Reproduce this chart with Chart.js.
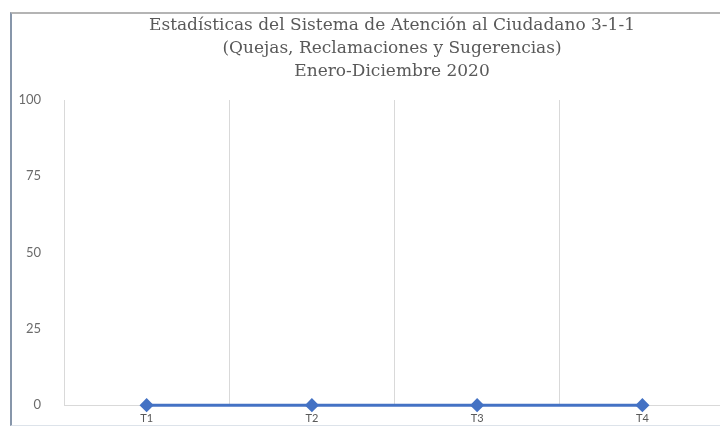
<!DOCTYPE html>
<html>
<head>
<meta charset="utf-8">
<script src="https://cdn.jsdelivr.net/npm/chart.js@4"></script>
<style>
  body { margin: 0; background: #fff; width: 720px; height: 429px; overflow: hidden; position: relative; }
  #frame {
    position: absolute; left: 10px; top: 12px; width: 800px; height: 411px;
    border-left: 2px solid #8796aa; border-top: 2px solid #b4b4b4; border-bottom: 1px solid #dde3ea;
  }
  #chart { display: block; }
</style>
</head>
<body>
<div id="frame"><canvas id="chart" width="760" height="422"></canvas></div>
<script>
const titleLines = [
  "Estadísticas del Sistema de Atención al Ciudadano 3-1-1",
  "(Quejas, Reclamaciones y Sugerencias)",
  "Enero-Diciembre 2020",
];
const categories = ["T1", "T2", "T3", "T4"];
const values = [0, 0, 0, 0];
const yTicks = [0, 25, 50, 75, 100];

const config = {
  type: "line",
  data: {
    labels: categories,
    datasets: [
      {
        label: "Total",
        data: values,
        borderColor: "#4472c4",
        backgroundColor: "#4472c4",
        borderWidth: 3,
        pointStyle: "rectRot",
        pointRadius: 5,
        pointHoverRadius: 5,
        clip: false,
        yAxisID: "y",
      },
    ],
  },
  options: {
    responsive: false,
    animation: false,
    layout: { padding: 0 },
    plugins: {
      legend: { display: false },
      tooltip: { enabled: false },
      title: {
        display: true,
        text: titleLines,
        color: "#595959",
        font: { family: "DejaVu Serif", size: 17, weight: "normal", lineHeight: "23px" },
        padding: { top: 0, bottom: 17 },
      },
    },
    scales: {
      x: {
        offset: true,
        grid: { color: "#d9d9d9", offset: true, drawTicks: false },
        border: { color: "#d9d9d9" },
        ticks: { color: "#595959", font: { family: "Lato", size: 11 }, padding: 7, maxRotation: 0 },
        afterFit: (scale) => { scale.height = 21; },
      },
      y: {
        min: 0,
        max: 100,
        afterBuildTicks: (scale) => { scale.ticks = yTicks.map((v) => ({ value: v })); },
        grid: { display: false, drawTicks: false },
        border: { display: false },
        ticks: { color: "#6b6b6b", font: { family: "Lato", size: 13 }, padding: 23 },
        afterFit: (scale) => { scale.width = 52; },
      },
      // empty right-hand strip: the plot runs under the frame's right edge
      yRight: {
        position: "right",
        grid: { display: false, drawTicks: false },
        border: { display: false },
        ticks: { display: false },
        afterFit: (scale) => { scale.width = 47; },
      },
    },
  },
};

new Chart(document.getElementById("chart"), config);
</script>
</body>
</html>
